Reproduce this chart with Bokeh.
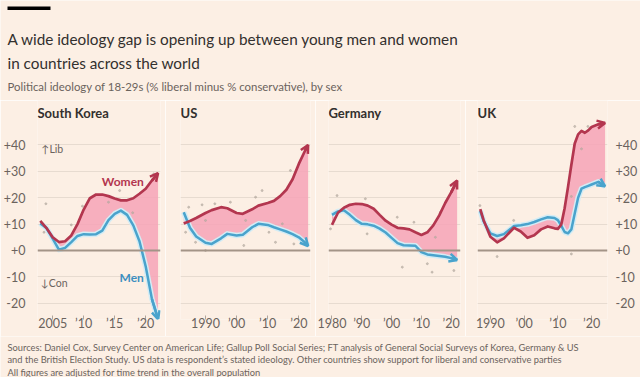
from bokeh.plotting import figure
from bokeh.models import (Range1d, FixedTicker, Grid, Span, Label, Arrow, OpenHead,
                          BoxAnnotation)
from bokeh.layouts import column, row
from bokeh.embed import file_html
from bokeh.resources import INLINE

# ---------------- data ----------------
sk_years = [2003, 2004, 2005, 2006, 2007, 2008, 2009, 2010, 2011, 2012, 2013, 2014,
            2015, 2016, 2017, 2018, 2019, 2020, 2021, 2022]
sk_women = [11.2, 8.5, 5.0, 3.2, 3.5, 5.7, 10.0, 15.5, 19.8, 21.2, 21.2, 20.6,
            19.7, 19.0, 19.0, 19.8, 21.5, 23.4, 26.5, 29.3]
sk_men = [10.2, 8.5, 4.5, 0.3, 1.0, 3.2, 5.5, 6.2, 6.1, 6.2, 7.5, 11.5,
          13.9, 15.1, 13.5, 9.5, 3.5, -6.0, -18.3, -26.0]
sk_dots_x = [2003.9, 2003.6, 2008.0, 2009.8, 2014.0, 2015.8, 2017.9, 2021.3]
sk_dots_y = [17.7, 6.9, 9.7, 16.8, 18.3, 22.7, 14.3, 29.0]

us_years = [1983, 1985, 1987, 1990, 1992, 1995, 1997, 2000, 2002, 2005, 2007, 2010,
            2012, 2014, 2016, 2018, 2020, 2022, 2023]
us_women = [10.2, 11.2, 12.3, 14.2, 15.3, 16.4, 16.0, 14.2, 13.9, 15.6, 17.0, 18.0,
            18.8, 20.6, 23.0, 27.0, 32.8, 37.8, 40.0]
us_men = [14.5, 8.6, 5.3, 2.9, 2.5, 4.6, 6.3, 5.7, 6.0, 8.8, 10.1, 9.7,
          8.8, 8.0, 7.2, 6.2, 5.0, 3.0, 1.7]
us_dots_x = [1984.6, 1988.9, 1993.0, 1998.0, 2008.2, 2006.1, 2017.3, 1990.0, 1996.4,
             2002.9, 2012.5, 2018.4, 1986.8, 1983.6, 1990.0, 2002.3, 2010.4, 2014.7]
us_dots_y = [16.4, 17.3, 17.7, 18.3, 22.7, 20.2, 30.3, 11.4, 5.7,
             11.4, 3.1, 2.5, 3.1, 6.9, 0.0, 1.9, 6.9, 10.1]

de_years = [1980, 1982, 1984, 1986, 1988, 1990, 1992, 1994, 1996, 1998, 2000, 2002,
            2004, 2006, 2008, 2010, 2012, 2014, 2016, 2018, 2020, 2022]
de_women = [9.7, 14.3, 16.2, 17.3, 17.7, 17.6, 17.0, 15.8, 13.5, 11.3, 9.8, 8.6,
            8.4, 8.0, 6.9, 5.9, 6.9, 9.5, 13.3, 18.0, 22.0, 26.5]
de_men = [13.5, 14.8, 15.2, 13.5, 11.5, 10.1, 9.9, 9.4, 8.3, 6.8, 4.8, 2.8,
          2.0, 1.9, 1.8, -0.6, -1.5, -1.8, -2.1, -2.4, -2.9, -3.6]
de_dots_x = [1981.7, 2001.9, 2007.5, 1991.8, 2003.6, 2012.0, 2013.6, 2016.4, 2014.7,
             2020.9, 1979.5, 1991.2]
de_dots_y = [20.8, 12.6, 10.7, 6.3, -6.3, -5.0, -8.2, 14.5, 5.0, -7.6, 8.2, 19.6]

uk_years = [1987, 1988, 1990, 1992, 1994, 1996, 1997, 1999, 2001, 2003, 2005, 2007,
            2009, 2010, 2011, 2012, 2013, 2014, 2015, 2016, 2017, 2018, 2019, 2020,
            2022, 2024]
uk_women = [15.7, 11.5, 5.2, 3.1, 4.6, 7.3, 8.6, 7.2, 4.8, 5.8, 8.0, 9.1,
            8.4, 8.2, 9.8, 16.0, 24.0, 32.5, 40.5, 44.0, 45.3, 44.6, 45.5, 46.8,
            47.8, 48.3]
uk_men = [15.0, 11.0, 6.5, 5.5, 6.2, 8.2, 9.3, 9.6, 10.0, 10.8, 11.8, 12.6,
          12.3, 11.5, 9.4, 7.0, 6.5, 8.0, 14.0, 20.0, 23.4, 24.0, 24.5, 25.0,
          26.0, 24.3]
uk_dots_x = [1986.9, 1996.9, 1992.0, 2015.0, 2017.0, 2014.0, 2014.0, 2018.9]
uk_dots_y = [17.0, 11.4, -2.3, 47.0, 38.5, 20.5, -1.3, 47.0]

y_ticks = [-20, -10, 0, 10, 20, 30, 40]
y_tick_labels = ["-20", "-10", "+0", "+10", "+20", "+30", "+40"]

title_l1 = "A wide ideology gap is opening up between young men and women"
title_l2 = "in countries across the world"
subtitle = "Political ideology of 18-29s (% liberal minus % conservative), by sex"
sources = [
    "Sources: Daniel Cox, Survey Center on American Life; Gallup Poll Social Series; FT analysis of General Social Surveys of Korea, Germany & US",
    "and the British Election Study. US data is respondent\u2019s stated ideology. Other countries show support for liberal and conservative parties",
    "All figures are adjusted for time trend in the overall population",
]

# ---------------- style ----------------
BG = "#fcefe4"
FONT = "Lato"
DARK = "#33302e"
GREY = "#6b635d"
GRID = "#e7dbd0"
ZERO = "#a39487"
WOMEN = "#b3364f"
MEN = "#4aa3cc"
MEN_HALO = "#d3ecf5"
PINK = "#f6a3b7"
DOT = "#b3a89f"

YR = (-26.14, 56.82)
PH = 236


def panel(name, years, women, men, dx, dy, xr, xticks, xlabels, width, left, right,
          yloc=None):
    p = figure(width=width, height=PH, x_range=Range1d(*xr), y_range=Range1d(*YR),
               output_backend="svg", toolbar_location=None, title=None,
               x_axis_location="below", y_axis_location=yloc,
               min_border_left=left, min_border_right=right,
               min_border_top=0, min_border_bottom=17)
    p.background_fill_color = BG
    p.border_fill_color = BG
    p.outline_line_color = None
    for g in p.grid:
        g.visible = False
    p.add_layout(Grid(dimension=1, ticker=FixedTicker(ticks=[t for t in y_ticks if t != 0]),
                      grid_line_color=GRID, grid_line_width=1))
    p.add_layout(Span(location=0, dimension="width", line_color=ZERO, line_width=2))

    xa = p.xaxis[0]
    xa.ticker = FixedTicker(ticks=xticks)
    xa.major_label_overrides = dict(zip(xticks, xlabels))
    xa.axis_line_color = None
    xa.major_tick_line_color = "#b0a59b"
    xa.major_tick_in = 4
    xa.major_tick_out = 0
    xa.minor_tick_line_color = None
    xa.major_label_standoff = -4
    xa.major_label_text_font = FONT
    xa.major_label_text_font_size = "12.5px"
    xa.major_label_text_color = GREY

    if yloc is not None:
        ya = p.yaxis[0]
        ya.ticker = FixedTicker(ticks=y_ticks)
        ya.major_label_overrides = dict(zip(y_ticks, y_tick_labels))
        ya.axis_line_color = None
        ya.major_tick_line_color = None
        ya.minor_tick_line_color = None
        ya.major_label_standoff = 6 if yloc == "left" else 2
        ya.major_label_text_font = FONT
        ya.major_label_text_font_size = "12.5px"
        ya.major_label_text_color = GREY

    p.varea(x=years, y1=men, y2=women, fill_color=PINK, fill_alpha=0.85)
    p.scatter(x=dx, y=dy, size=2, color=DOT, alpha=0.6)
    p.line(years, men, line_color=MEN_HALO, line_width=5.5, line_join="round")
    p.line(years, men, line_color=MEN, line_width=2.5, line_join="round")
    p.line(years, women, line_color=WOMEN, line_width=2.7, line_join="round")
    p.add_layout(Arrow(end=OpenHead(size=8, line_color=MEN, line_width=2.5),
                       x_start=years[-2], y_start=men[-2], x_end=years[-1], y_end=men[-1],
                       line_color=MEN, line_width=2.5))
    p.add_layout(Arrow(end=OpenHead(size=8, line_color=WOMEN, line_width=2.5),
                       x_start=years[-2], y_start=women[-2], x_end=years[-1], y_end=women[-1],
                       line_color=WOMEN, line_width=2.7))
    p.add_layout(Label(x=xr[0], y=52, text=name, text_font=FONT, text_font_style="bold",
                       text_font_size="13px", text_color=DARK, text_baseline="middle"))
    return p


p1 = panel("South Korea", sk_years, sk_women, sk_men, sk_dots_x, sk_dots_y,
           (2002.55, 2022.39), [2005, 2010, 2015, 2020], ["2005", "\u201910", "\u201915", "\u201920"],
           165, 33, 5, "left")
p1.add_layout(Label(x=2019.7, y=26, text="Women", text_font=FONT, text_font_style="bold",
                    text_font_size="12px", text_color=WOMEN, text_align="right",
                    text_baseline="middle"))
p1.add_layout(Label(x=2019.7, y=-10.4, text="Men", text_font=FONT, text_font_style="bold",
                    text_font_size="12px", text_color="#3d8fc0", text_align="right",
                    text_baseline="middle"))
p1.add_layout(Label(x=2003.2, y=38.5, text="\u2191Lib", text_font=FONT,
                    text_font_size="10.5px", text_color=GREY, text_baseline="middle"))
p1.add_layout(Label(x=2003.1, y=-12.3, text="\u2193Con", text_font=FONT,
                    text_font_size="10.5px", text_color=GREY, text_baseline="middle"))

p2 = panel("US", us_years, us_women, us_men, us_dots_x, us_dots_y,
           (1981.96, 2023.76), [1990, 2000, 2010, 2020], ["1990", "\u201900", "\u201910", "\u201920"],
           150, 15, 5)
p3 = panel("Germany", de_years, de_women, de_men, de_dots_x, de_dots_y,
           (1978.83, 2023.13), [1980, 1990, 2000, 2010, 2020],
           ["1980", "\u201990", "\u201900", "\u201910", "\u201920"], 150, 13, 5)
p4 = panel("UK", uk_years, uk_women, uk_men, uk_dots_x, uk_dots_y,
           (1986.18, 2024.71), [1990, 2000, 2010, 2020], ["1990", "\u201900", "\u201910", "\u201920"],
           175, 12, 32, "right")


def text_fig(h):
    f = figure(width=640, height=h, x_range=Range1d(0, 640), y_range=Range1d(h, 0),
               output_backend="svg", toolbar_location=None, title=None,
               x_axis_location=None, y_axis_location=None, min_border=0)
    f.background_fill_color = BG
    f.border_fill_color = BG
    f.outline_line_color = None
    for g in f.grid:
        g.visible = False
    return f


head = text_fig(100)
head.add_layout(BoxAnnotation(left=7, right=50, top=6, bottom=9.5, fill_color="#000000",
                              fill_alpha=1, line_color=None))
head.add_layout(Label(x=7, y=38, text=title_l1, text_font=FONT, text_font_size="15.3px",
                      text_color=DARK, text_baseline="alphabetic"))
head.add_layout(Label(x=7, y=62, text=title_l2, text_font=FONT, text_font_size="15.3px",
                      text_color=DARK, text_baseline="alphabetic"))
head.add_layout(Label(x=7, y=85.5, text=subtitle, text_font=FONT, text_font_size="11.4px",
                      text_color=GREY, text_baseline="alphabetic"))

foot = text_fig(41)
for i, s in enumerate(sources):
    foot.add_layout(Label(x=7, y=11 + 12.3 * i, text=s, text_font=FONT,
                          text_font_size="9.3px", text_color=GREY, text_baseline="alphabetic"))

layout = column(head, row(p1, p2, p3, p4, spacing=0), foot, spacing=0)
open("out.html", "w").write(file_html(layout, INLINE))
